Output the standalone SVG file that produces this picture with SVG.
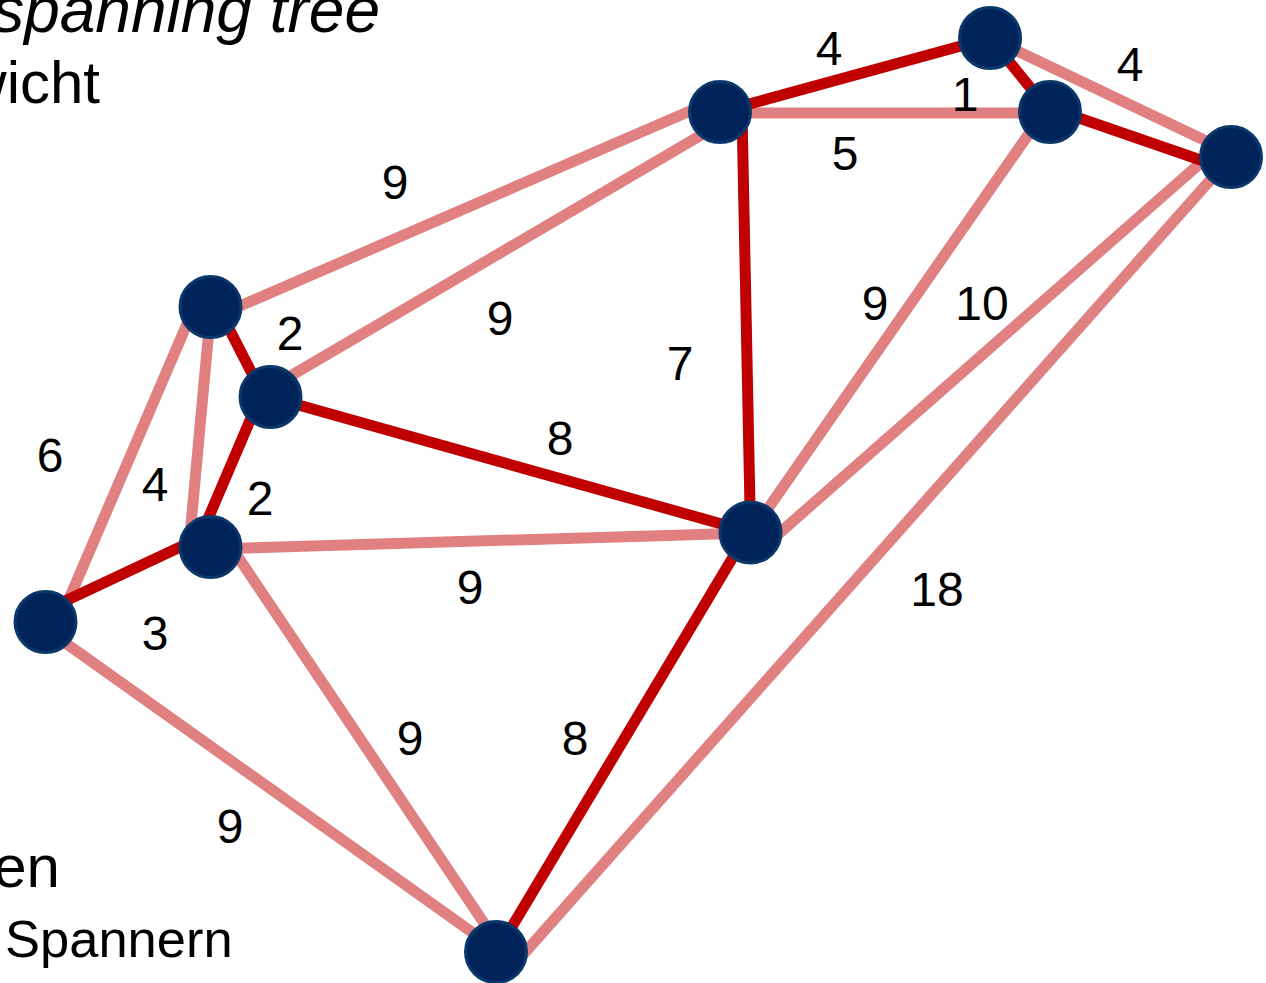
<svg xmlns="http://www.w3.org/2000/svg" width="1266" height="983" viewBox="0 0 1266 983">
  <style>
    .edge { fill: none; stroke-width: 11; stroke-linecap: butt; }
    .light { stroke: #E08080; }
    .tree { stroke: #C00000; }
    .node { fill: #00235A; stroke: #0A386B; stroke-width: 3; }
    .w { font-family: "Liberation Sans", Arial, sans-serif; font-size: 48px; fill: #000; text-anchor: middle; }
    .body { font-family: "Liberation Sans", Arial, sans-serif; fill: #000; }
  </style>
  <rect width="1266" height="983" fill="#fff"/>

  <!-- slide text -->
  <text class="body" x="380" y="32" font-size="64" font-style="italic" text-anchor="end">spanning tree</text>
  <text class="body" x="100" y="103" font-size="60" text-anchor="end">wicht</text>
  <text class="body" x="60" y="887" font-size="60" text-anchor="end">en</text>
  <text class="body" x="5" y="957" font-size="52.5">Spannern</text>

  <g id="connectors">
    <!-- non-tree edges -->
    <line class="edge light" x1="990" y1="38" x2="1225" y2="150"/>
    <line class="edge light" x1="720" y1="113" x2="1050" y2="113"/>
    <line class="edge light" x1="720" y1="98" x2="210" y2="319"/>
    <line class="edge light" x1="720" y1="124" x2="270" y2="388"/>
    <line class="edge light" x1="1035" y1="125" x2="760" y2="520"/>
    <line class="edge light" x1="1205" y1="159" x2="775" y2="537"/>
    <line class="edge light" x1="1213" y1="177" x2="520" y2="958"/>
    <line class="edge light" x1="211" y1="307" x2="189" y2="546"/>
    <line class="edge light" x1="193" y1="310" x2="60" y2="620"/>
    <line class="edge light" x1="210" y1="549" x2="750" y2="533"/>
    <line class="edge light" x1="232" y1="548" x2="490" y2="932"/>
    <line class="edge light" x1="50" y1="632" x2="490" y2="945"/>
    <!-- spanning-tree edges -->
    <line class="edge tree" x1="720" y1="112" x2="990" y2="38"/>
    <line class="edge tree" x1="990" y1="38" x2="1050" y2="112"/>
    <line class="edge tree" x1="1050" y1="108" x2="1215" y2="165"/>
    <line class="edge tree" x1="742" y1="112" x2="750.5" y2="532"/>
    <line class="edge tree" x1="218" y1="307" x2="264" y2="397"/>
    <line class="edge tree" x1="260" y1="397" x2="196" y2="547"/>
    <line class="edge tree" x1="270" y1="397" x2="750" y2="532"/>
    <line class="edge tree" x1="46" y1="610" x2="210" y2="533"/>
    <line class="edge tree" x1="748" y1="532" x2="498" y2="950"/>
  </g>

  <!-- edge weights -->
  <g id="weights">
    <text class="w" x="829" y="65">4</text>
    <text class="w" x="965" y="111">1</text>
    <text class="w" x="1130" y="81">4</text>
    <text class="w" x="845" y="170">5</text>
    <text class="w" x="395" y="199">9</text>
    <text class="w" x="500" y="335">9</text>
    <text class="w" x="290" y="350">2</text>
    <text class="w" x="680" y="380">7</text>
    <text class="w" x="875" y="320">9</text>
    <text class="w" x="982" y="320">10</text>
    <text class="w" x="50" y="472">6</text>
    <text class="w" x="155" y="501">4</text>
    <text class="w" x="260" y="515">2</text>
    <text class="w" x="560" y="455">8</text>
    <text class="w" x="470" y="604">9</text>
    <text class="w" x="155" y="650">3</text>
    <text class="w" x="937" y="606">18</text>
    <text class="w" x="410" y="755">9</text>
    <text class="w" x="575" y="755">8</text>
    <text class="w" x="230" y="843">9</text>
  </g>

  <g id="node-a"><circle class="node" cx="720" cy="112" r="30.5"/></g>
  <g id="node-b"><circle class="node" cx="990" cy="38" r="30.5"/></g>
  <g id="node-c"><circle class="node" cx="1050" cy="112" r="30.5"/></g>
  <g id="node-d"><circle class="node" cx="1231" cy="157" r="30.5"/></g>
  <g id="node-e"><circle class="node" cx="210.5" cy="307" r="30.5"/></g>
  <g id="node-f"><circle class="node" cx="270.5" cy="397" r="30.5"/></g>
  <g id="node-g"><circle class="node" cx="210.5" cy="547" r="30.5"/></g>
  <g id="node-h"><circle class="node" cx="45.5" cy="622" r="30.5"/></g>
  <g id="node-i"><circle class="node" cx="750.5" cy="532.5" r="30.5"/></g>
  <g id="node-j"><circle class="node" cx="496" cy="952" r="30.5"/></g>
</svg>
